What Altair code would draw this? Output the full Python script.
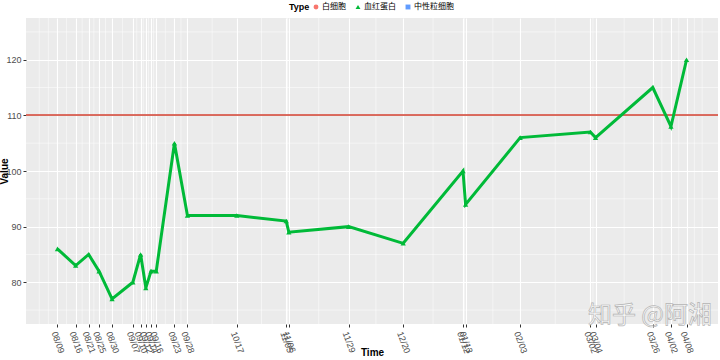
import altair as alt
import pandas as pd

# ---- data ----
dates = ["2018-08-09", "2018-08-16", "2018-08-21", "2018-08-25", "2018-08-30",
         "2018-09-07", "2018-09-10", "2018-09-12", "2018-09-14", "2018-09-16",
         "2018-09-23", "2018-09-28", "2018-10-17", "2018-11-05", "2018-11-06",
         "2018-11-29", "2018-12-20", "2019-01-12", "2019-01-13", "2019-02-03",
         "2019-03-02", "2019-03-04", "2019-03-26", "2019-04-02", "2019-04-08"]
values = [86, 83, 85, 82, 77, 80, 85, 79, 82, 82, 105, 92, 92, 91, 89,
          90, 87, 100, 94, 106, 107, 106, 115, 108, 120]
series = ["白细胞", "血红蛋白", "中性粒细胞"]
colors = ["#F8766D", "#00BA38", "#619CFF"]
shapes = ["circle", "triangle-up", "square"]
shown = "血红蛋白"
threshold = 110
y_breaks = [80, 90, 100, 110, 120]
y_minor = [75, 85, 95, 105, 115, 125]
y_limits = [75, 125]
watermark = "知乎 @阿湘"

FONT = "Liberation Sans"
CJK = "Noto Sans CJK SC"


def ms(d):
    return int(pd.Timestamp(d, tz="UTC").value // 10**6)


t = [ms(d) for d in dates]
span = t[-1] - t[0]
x_domain = [t[0] - 0.05 * span, t[-1] + 0.05 * span]
yext = 0.05 * (y_limits[1] - y_limits[0])
y_domain = [y_limits[0] - yext, y_limits[1] + yext]

# ggplot-style minor breaks: midpoints between breaks, extended one step at ends
b = [t[0] - (t[1] - t[0])] + t + [t[-1] + (t[-1] - t[-2])]
x_minor = [(a + c) / 2 for a, c in zip(b[:-1], b[1:])] + [b[0], b[-1]]
x_minor = [m for m in x_minor if x_domain[0] <= m <= x_domain[1]]

df = pd.DataFrame({"date": dates, "value": values, "Type": shown})
df_xminor = pd.DataFrame({"t": x_minor})
df_yminor = pd.DataFrame({"v": y_minor})

xscale = alt.Scale(type="utc", domain=x_domain, nice=False)
yscale = alt.Scale(domain=y_domain, nice=False, zero=False)

xaxis = alt.Axis(values=t, format="%m/%d", labelAngle=70, labelAlign="left",
                 labelBaseline="top", labelOverlap=False, labelFontSize=9,
                 labelColor="#4D4D4D", labelFont=FONT, labelPadding=3,
                 labelBound=False, labelFlush=False,
                 tickColor="#333333", tickSize=3, tickWidth=1, domain=False,
                 grid=True, gridColor="white", gridWidth=1.1,
                 title="Time", titleFont=FONT, titleFontSize=10,
                 titleFontWeight="bold", titleY=23, titleColor="black")
yaxis = alt.Axis(values=y_breaks, labelFontSize=9, labelColor="#4D4D4D",
                 labelFont=FONT, labelPadding=2,
                 tickColor="#333333", tickSize=3, tickWidth=1, domain=False,
                 grid=True, gridColor="white", gridWidth=1.1,
                 title="Value", titleFont=FONT, titleFontSize=10,
                 titleFontWeight="bold", titleX=-17, titleColor="black")

legend = alt.Legend(title="Type", orient="none", direction="horizontal",
                    legendX=263, legendY=-15, titleOrient="left",
                    titleFont=FONT, titleFontSize=9, titleFontWeight="bold",
                    titleColor="black", titlePadding=2,
                    labelFont=CJK, labelFontSize=8, labelColor="black",
                    labelOffset=2, symbolSize=24, symbolStrokeWidth=0,
                    columnPadding=8)

color = alt.Color("Type:N", scale=alt.Scale(domain=series, range=colors), legend=legend)

minor_x = alt.Chart(df_xminor).mark_rule(color="white", strokeWidth=0.5).encode(
    x=alt.X("t:T", scale=xscale, axis=xaxis))
minor_y = alt.Chart(df_yminor).mark_rule(color="white", strokeWidth=0.5).encode(
    y=alt.Y("v:Q", scale=yscale, axis=yaxis))

hline = alt.Chart(df).mark_rule(color="#D9695C", strokeWidth=0.6).encode(
    y=alt.datum(threshold))

line = alt.Chart(df).mark_line(strokeWidth=3).encode(
    x=alt.X("date:T", scale=xscale, axis=xaxis),
    y=alt.Y("value:Q", scale=yscale, axis=yaxis),
    color=color)

points = alt.Chart(df).mark_point(filled=True, opacity=1, size=28).encode(
    x=alt.X("date:T", scale=xscale, axis=xaxis),
    y=alt.Y("value:Q", scale=yscale, axis=yaxis),
    color=color,
    shape=alt.Shape("Type:N", scale=alt.Scale(domain=series, range=shapes), legend=legend))

wm = alt.Chart(pd.DataFrame({"label": [watermark]})).mark_text(
    font=CJK, fontSize=24, fill="white", stroke="#a0a0a0", strokeWidth=0.7,
    opacity=0.75, align="center", baseline="middle").encode(
    text="label:N", x=alt.value(624), y=alt.value(298))

chart = alt.layer(minor_x, minor_y, hline, line, points, wm).properties(
    width=692, height=306,
    autosize=alt.AutoSizeParams(type="none"),
    padding={"left": 26, "top": 18, "right": 2, "bottom": 36},
    background="white",
).configure_view(fill="#EBEBEB", strokeWidth=0)

chart.save("out.html", embed_options={"renderer": "svg", "actions": False})
